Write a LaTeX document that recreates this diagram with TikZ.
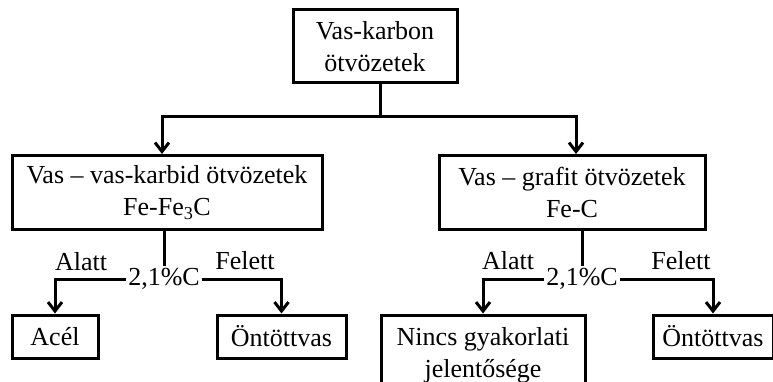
\documentclass[tikz,border=0pt]{standalone}
\usepackage{fontspec}
\setmainfont{Liberation Serif}
\usetikzlibrary{arrows.meta}
\begin{document}
\begin{tikzpicture}[x=1pt,y=-1pt,
  box/.style={draw,line width=3pt,inner sep=0pt,align=center},
  lbl/.style={inner sep=0pt},
  pct/.style={inner sep=2pt},
  conn/.style={line width=3pt},
  arr/.style={conn,-{Straight Barb[length=9pt,width=14pt,line width=3pt]}},
  font=\fontsize{26}{32}\selectfont]
\useasboundingbox (0,0) rectangle (773,382);
\node[box,minimum width=164pt,minimum height=73pt] (top) at (375,46.5) {Vas-karbon\\ötvözetek};
\node[box,minimum width=310pt,minimum height=73pt] (L1) at (167,192.5) {Vas – vas-karbid ötvözetek\\Fe-Fe\textsubscript{3}C};
\node[box,minimum width=266pt,minimum height=73pt] (R1) at (572,192.5) {Vas – grafit ötvözetek\\Fe-C};
\node[box,minimum width=86pt,minimum height=43pt] (acel) at (55,336.5) {Acél};
\node[box,minimum width=129pt,minimum height=43pt] (ontL) at (281.5,336.5) {Öntöttvas};
\node[box,minimum width=204pt,minimum height=80pt] (nincs) at (483,355) {Nincs gyakorlati\\jelentősége};
\node[box,minimum width=120pt,minimum height=43pt] (ontR) at (713,336.5) {Öntöttvas};
\node[pct] (pl) at (164,279) {2,1\%C};
\node[pct] (pr) at (582,279) {2,1\%C};
\node[lbl] (al) at (81,262) {Alatt};
\node[lbl] (fl) at (245,261) {Felett};
\node[lbl] (ar) at (508,261) {Alatt};
\node[lbl] (fr) at (681,261) {Felett};
\coordinate (j) at (380,117);
\draw[conn] (top.south -| j) -- (j);
\draw[arr] (j) -| (162,154);
\draw[arr] (j) -| (576,154);
\draw[conn] (L1.south -| pl.north) -- (pl.north);
\draw[arr] (pl.west) -| (acel.north);
\draw[arr] (pl.east) -| (ontL.north);
\draw[conn] (R1.south -| pr.north) -- (pr.north);
\draw[arr] (pr.west) -| (nincs.north);
\draw[arr] (pr.east) -| (ontR.north);
\end{tikzpicture}
\end{document}
